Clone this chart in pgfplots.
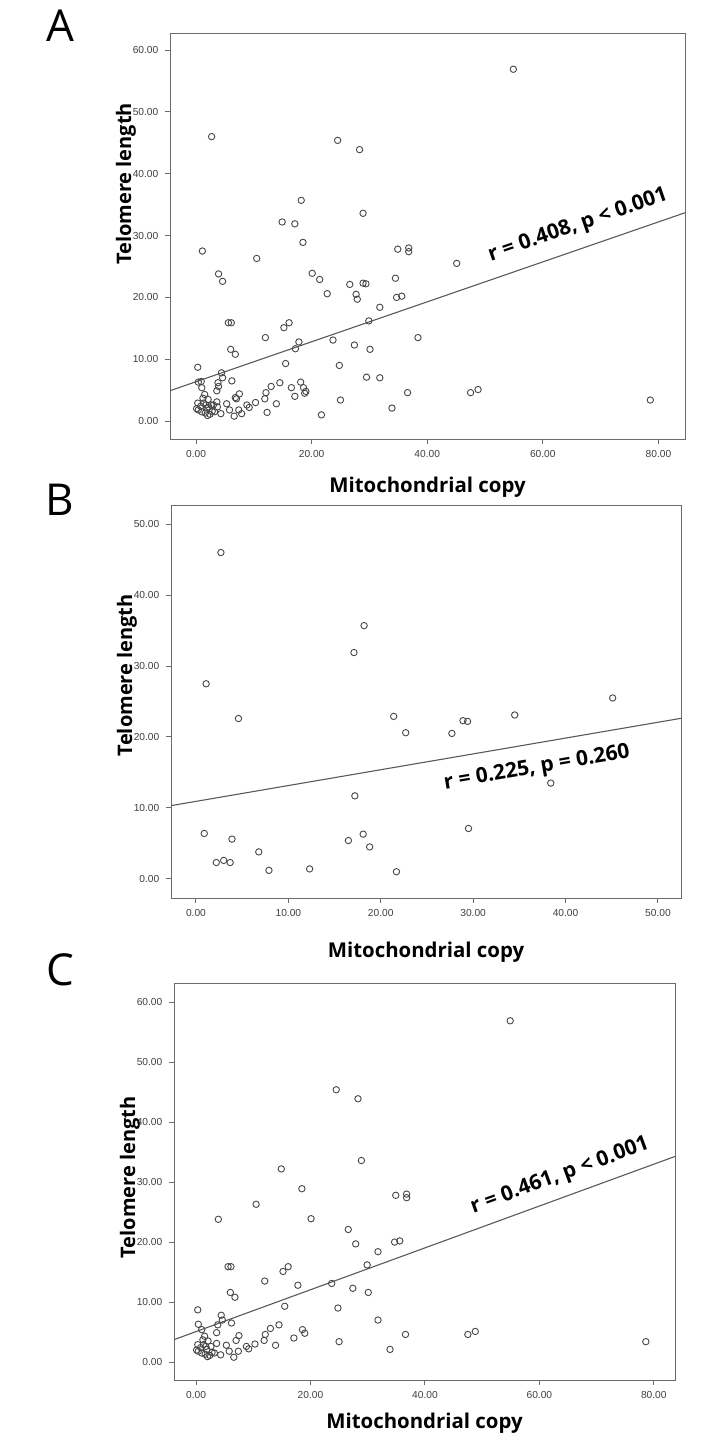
\documentclass[border=0pt]{standalone}
\usepackage{pgfplots}
\pgfplotsset{compat=1.18}
\usepackage{pgfplotstable}
\usepackage{fontspec}
\setmainfont{Open Sans}
\newfontfamily\tickfont{Liberation Sans}
\definecolor{framegray}{gray}{0.42}

\pgfplotstableread{
x y
2.7 46.0
18.2 35.7
17.1 31.9
1.1 27.5
4.6 22.6
21.4 22.9
22.7 20.6
17.2 11.7
0.9 6.4
3.9 5.6
16.5 5.4
18.1 6.3
18.8 4.5
6.8 3.8
2.2 2.3
3.0 2.6
3.7 2.3
7.9 1.2
12.3 1.4
21.7 1.0
45.1 25.5
34.5 23.1
28.9 22.3
29.4 22.2
27.7 20.5
38.4 13.5
29.5 7.1
}\dataB

\pgfplotstableread{
x y
54.9 56.9
24.5 45.4
28.3 43.9
28.9 33.6
14.9 32.2
18.5 28.9
10.5 26.3
34.9 27.8
36.8 28.0
36.8 27.4
3.9 23.8
20.1 23.9
26.6 22.1
27.9 19.7
34.7 20.0
35.6 20.2
31.8 18.4
29.9 16.2
5.6 15.9
6.1 15.9
16.1 15.9
15.2 15.1
12.0 13.5
23.7 13.1
17.8 12.8
27.4 12.3
30.1 11.6
6.0 11.6
6.8 10.8
0.3 8.7
15.5 9.3
24.8 9.0
31.8 7.0
4.4 7.8
4.6 7.0
0.4 6.3
1.0 5.4
6.2 6.5
3.8 6.2
3.6 4.9
1.5 4.3
13.0 5.6
14.5 6.2
18.6 5.4
19.0 4.8
17.1 4.0
12.1 4.6
11.9 3.6
7.5 4.4
10.3 3.0
8.8 2.6
7.0 3.6
25.0 3.4
36.6 4.6
33.9 2.1
13.9 2.8
7.4 1.8
5.3 2.8
5.8 1.8
4.3 1.2
3.6 3.1
47.5 4.6
48.8 5.1
78.6 3.4
9.2 2.2
6.6 0.8
0.1 2.0
0.4 1.8
0.8 2.4
1.0 1.5
1.3 2.9
1.6 1.3
1.9 2.1
2.1 3.5
2.4 1.1
2.6 2.6
2.8 1.6
1.2 3.7
0.3 2.9
2.0 0.9
3.2 1.5
1.7 2.6
}\dataC

\tikzset{annot/.style={font=\fontsize{10.5}{12}\selectfont\bfseries}}

\pgfplotsset{
  myaxis/.style={
    scale only axis,
    axis line style={framegray, line width=0.5pt},
    tick style={framegray, line width=0.5pt},
    tick align=outside,
    major tick length=2.3pt,
    xtick pos=bottom, ytick pos=left,
    tick label style={font=\tickfont\fontsize{5.1}{6}\selectfont, text=black!75},
    /pgf/number format/.cd, fixed, fixed zerofill, precision=2, assume math mode=true, /pgfplots/.cd,
    xlabel={Mitochondrial copy}, ylabel={Telomere length},
    every axis x label/.style={at={(rel axis cs:0.5,0)}, anchor=base,
      font=\fontsize{10.2}{12}\selectfont\bfseries},
  },
  ylab/.style={every axis y label/.style={at={(rel axis cs:0,#1)}, xshift=-22pt, rotate=90, anchor=center,
      font=\fontsize{10}{12}\selectfont\bfseries}},
  pts/.style={only marks, mark=o, mark size=1.6pt, mark options={draw=black!72, line width=0.45pt}},
  fitl/.style={no marks, draw=black!65, line width=0.55pt},
}

\begin{document}
\begin{tikzpicture}
\useasboundingbox (0pt,0pt) rectangle (360.5pt,-724.5pt);

\node[font=\fontsize{22}{24}\selectfont] at (30pt,-13pt) {A};
\node[font=\fontsize{22}{24}\selectfont] at (30pt,-250pt) {B};
\node[font=\fontsize{22}{24}\selectfont] at (30pt,-485pt) {C};

% Panel A
\begin{axis}[myaxis, ylab=0.63, at={(85pt,-219.5pt)}, anchor=south west,
  width=257.5pt, height=202.5pt,
  xmin=-4.5, xmax=84.6, ymin=-2.9, ymax=62.6,
  xtick={0,20,...,80}, ytick={0,10,...,60},
  every axis x label/.append style={yshift=-26.5pt}]
\addplot[pts] table {\dataB};
\addplot[pts] table {\dataC};
\addplot[fitl] coordinates {(-4.5,4.91) (84.6,33.69)};
\node[annot, rotate=19] at (axis cs:66.1,31.6) {r = 0.408, p < 0.001};
\end{axis}

% Panel B
\begin{axis}[myaxis, ylab=0.567, at={(85.5pt,-449pt)}, anchor=south west,
  width=255pt, height=196.5pt,
  xmin=-2.7, xmax=52.5, ymin=-2.7, ymax=52.7,
  xtick={0,10,...,50}, ytick={0,10,...,50},
  every axis x label/.append style={yshift=-29.5pt}]
\addplot[pts] table {\dataB};
\addplot[fitl] coordinates {(-2.7,10.32) (52.5,22.63)};
\node[annot, rotate=9.7] at (axis cs:36.9,15.6) {r = 0.225, p = 0.260};
\end{axis}

% Panel C
\begin{axis}[myaxis, ylab=0.51, at={(87pt,-690pt)}, anchor=south west,
  width=250.5pt, height=198.5pt,
  xmin=-3.85, xmax=83.7, ymin=-3.0, ymax=63.2,
  xtick={0,20,...,80}, ytick={0,10,...,60},
  every axis x label/.append style={yshift=-24pt}]
\addplot[pts] table {\dataC};
\addplot[fitl] coordinates {(-3.85,3.73) (83.7,34.28)};
\node[annot, rotate=20.1] at (axis cs:63.6,31.0) {r = 0.461, p < 0.001};
\end{axis}
\end{tikzpicture}
\end{document}
